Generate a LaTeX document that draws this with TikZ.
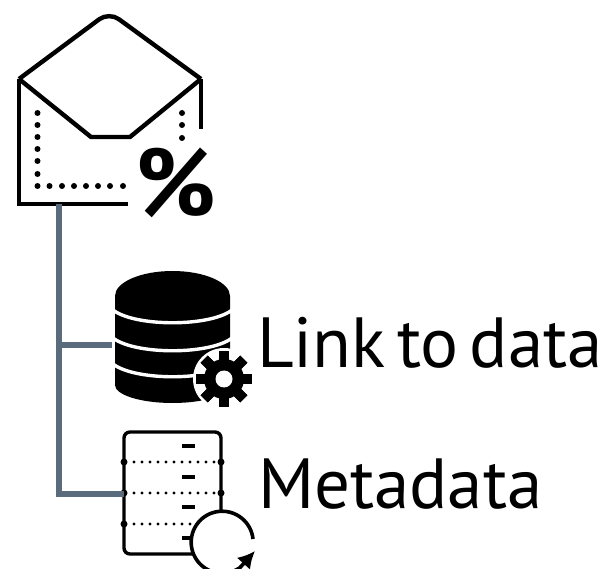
\documentclass[tikz,border=0pt]{standalone}
\usepackage{fontspec}
\usetikzlibrary{arrows.meta}
\setmainfont[WordSpace=0.6]{PT Sans}
\definecolor{linkslate}{HTML}{5A6B7C}

\begin{document}
\begin{tikzpicture}[x=1pt, y=-1pt, line join=miter,
    outline/.style = {draw, line width=4.4pt},
    dotrow/.style = {fill, circle, inner sep=0pt, minimum size=6pt},
    srvline/.style = {draw, line width=3.4pt, rounded corners=6pt},
    srvdot/.style = {fill, circle, inner sep=0pt, minimum size=3.4pt},
    link/.style = {draw=linkslate, line width=6pt},
    hook/.style = {inner sep=0pt, minimum size=0pt},
    caption/.style = {inner sep=0pt, anchor=base west, font=\fontsize{71}{71}\selectfont}]
\useasboundingbox (0,0) rectangle (608,569);
\clip (0,0) rectangle (608,569);

% envelope
\node[hook] (mail) at (59,204) {};
\draw[outline] (128,204) -- (19,204) -- (19,79);
\draw[outline, rounded corners=12pt] (19,79) -- (109,12) -- (201,79);
\draw[outline] (201,79) -- (201,129);
\draw[outline] (19,79) -- (91,137) -- (130,137) -- (201,79);
\foreach \y in {113,125,137,149,161,174,186}
    \node[dotrow] at (37.5,\y) {};
\foreach \x in {49.5,62,74,86,98,110,123}
    \node[dotrow] at (\x,186) {};
\foreach \y in {113,125,138}
    \node[dotrow] at (182,\y) {};
\node (percent) at (176,183) {\fontsize{96}{96}\selectfont\bfseries\%};

% database
\fill (115,296) -- (230,296) -- (230,385)
    arc[start angle=0, end angle=180, x radius=57.5, y radius=18] -- cycle;
\fill (172.5,296) ellipse[x radius=57.5, y radius=25];
\foreach \y in {310,338,364}
    \draw[white, line width=3.4pt] (113,\y) .. controls (135,{\y+17}) and (210,{\y+17}) .. (232,\y);
\fill[white] (224,379) circle[radius=31];
\foreach \a in {0,45,...,315}
    \fill[rotate around={\a:(224,379)}] (219,351) rectangle (229,407);
\fill (224,379) circle[radius=20];
\fill[white] (224,379) circle[radius=8.5];
\node[hook] (db) at (112,345) {};

% server
\draw[srvline] (124,432) rectangle (221,554);
\foreach \y in {462,493,524} {
    \fill (124,\y) circle[radius=3.5];
    \fill (221,\y) circle[radius=3.5];
    \foreach \x in {134,142,...,214}
        \node[srvdot] at (\x,\y) {};
}
\foreach \y in {446,477,507,538}
    \fill (182,\y-2) rectangle (195,\y+2);
\node[hook] (srv) at (124,494) {};
\fill[white] (222,542) circle[radius=31];
\draw[line width=3.6pt, -{Latex[length=17pt,width=18pt]}] (253,539) arc[start angle=-6, end angle=-305, radius=31] -- (255,551);

% connectors
\node[hook] (dbjoin) at (59,345) {};
\node[hook] (srvjoin) at (59,494) {};
\draw[link] (mail.center) -- (dbjoin.center);
\draw[link] (dbjoin.center) -- (db.center);
\draw[link] (dbjoin.center) -- (srvjoin.center) -- (srv.center);

\node[caption] (linklabel) at (257,368) {Link to data};
\node[caption] (metalabel) at (258,508) {Metadata};
\end{tikzpicture}
\end{document}
